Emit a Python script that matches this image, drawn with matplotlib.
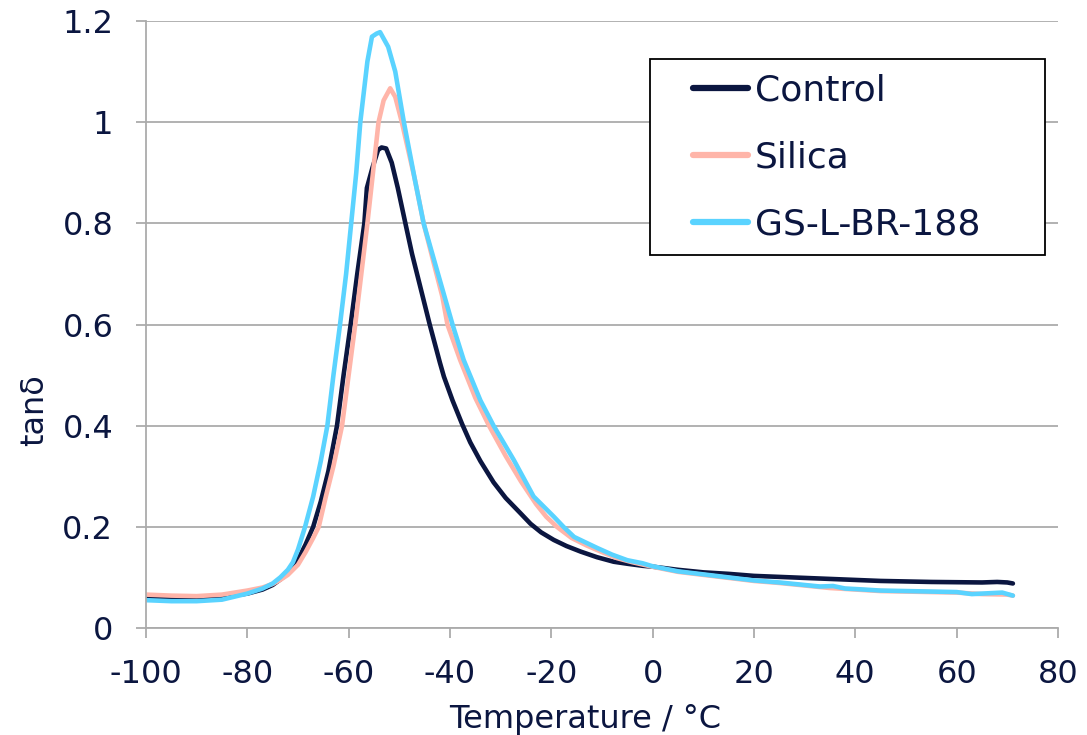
import matplotlib.pyplot as plt
from matplotlib.patches import Rectangle
from matplotlib.ticker import FormatStrFormatter

# tan delta vs temperature
ctrl_t = [-100, -95, -90, -85, -80, -77, -75, -73.5, -72, -70, -68.5, -67, -65.5, -64, -62.3, -61,
          -59.6, -58.3, -56.9, -56.4, -55.3, -54.2, -53.5, -52.6, -51.5, -50.3, -48.8, -47.5, -46,
          -44, -42, -41.2, -39.5, -37.6, -36, -34, -31.4, -29, -26.1, -24.1, -22, -19.5, -17, -14.2,
          -11, -7.7, -5, -2, 0.2, 5, 10, 15, 20, 25, 30, 35, 40, 45, 50, 55, 60, 65, 68, 70, 71.1]
ctrl_y = [0.061, 0.059, 0.058, 0.061, 0.068, 0.076, 0.085, 0.096, 0.108, 0.135, 0.165, 0.2, 0.25,
          0.31, 0.4, 0.5, 0.6, 0.7, 0.8, 0.87, 0.91, 0.945, 0.95, 0.948, 0.92, 0.87, 0.8, 0.74,
          0.68, 0.6, 0.525, 0.497, 0.45, 0.403, 0.367, 0.33, 0.288, 0.257, 0.227, 0.206, 0.189,
          0.174, 0.162, 0.151, 0.14, 0.131, 0.127, 0.123, 0.121, 0.115, 0.11, 0.107, 0.103, 0.101,
          0.099, 0.097, 0.095, 0.093, 0.092, 0.091, 0.0905, 0.09, 0.091, 0.09, 0.088]

sil_t = [-100, -95, -90, -85, -80, -77, -75, -73.5, -72, -70, -68.5, -67, -65.9, -64.5, -63, -61.3,
         -60, -58.7, -57.5, -56.3, -55.2, -54.1, -53.1, -51.8, -50.8, -49.5, -47, -45.2, -43.3,
         -41.5, -40.5, -38, -35, -32.3, -29, -26, -23, -21, -18.9, -16, -13, -10, -7, -4, 0, 5,
         10, 15, 20, 25, 30, 35, 40, 45, 50, 55, 60, 65, 70, 71.1]
sil_y = [0.066, 0.064, 0.063, 0.066, 0.074, 0.08, 0.087, 0.095, 0.105, 0.125, 0.15, 0.178, 0.2,
         0.26, 0.32, 0.4, 0.5, 0.6, 0.7, 0.8, 0.9, 1.0, 1.043, 1.067, 1.05, 1.0, 0.89, 0.8, 0.725,
         0.655, 0.6, 0.53, 0.455, 0.4, 0.34, 0.29, 0.245, 0.22, 0.2, 0.178, 0.163, 0.15, 0.138,
         0.13, 0.121, 0.111, 0.105, 0.099, 0.093, 0.089, 0.084, 0.079, 0.076, 0.073, 0.072,
         0.071, 0.07, 0.067, 0.066, 0.064]

gs_t = [-100, -95, -90, -85, -80, -77, -75, -73.5, -72, -71, -70, -68.6, -67, -65.5, -64.2, -63,
        -61.7, -60.5, -59.5, -58.5, -57.7, -56.3, -55.4, -54.5, -53.8, -52.2, -50.8, -49.1, -47,
        -45.2, -43.3, -41.5, -39.5, -37.3, -34, -31.4, -27.4, -23.5, -19.5, -17.6, -15.5, -13,
        -10.9, -8, -5, -2, 0, 5, 10, 15, 20, 25, 30, 33, 35.6, 38, 40, 45, 50, 55, 60, 63, 67,
        69, 71.1]
gs_y = [0.055, 0.053, 0.053, 0.056, 0.068, 0.078, 0.088, 0.1, 0.115, 0.13, 0.155, 0.2, 0.26,
        0.33, 0.4, 0.5, 0.6, 0.7, 0.8, 0.9, 1.0, 1.12, 1.169, 1.175, 1.178, 1.149, 1.1, 1.0,
        0.89, 0.8, 0.733, 0.67, 0.6, 0.53, 0.45, 0.4, 0.332, 0.26, 0.22, 0.2, 0.18, 0.168,
        0.158, 0.145, 0.134, 0.128, 0.122, 0.112, 0.106, 0.1, 0.094, 0.09, 0.085, 0.082, 0.083,
        0.078, 0.077, 0.074, 0.073, 0.072, 0.071, 0.067, 0.069, 0.07, 0.064]

navy = '#0b1640'
plt.rcParams['font.family'] = ['DejaVu Sans']
plt.rcParams['axes.unicode_minus'] = False

fig = plt.figure(figsize=(10.87, 7.35), dpi=100)
ax = fig.add_axes([0.1343, 0.1456, 0.839, 0.8258])

ax.plot(ctrl_t, ctrl_y, color=navy, lw=3.3, label='Control', solid_capstyle='round')
ax.plot(sil_t, sil_y, color='#ffb5a9', lw=3.3, label='Silica', solid_capstyle='round')
ax.plot(gs_t, gs_y, color='#5ad3ff', lw=3.3, label='GS-L-BR-188', solid_capstyle='round')

ax.set_xlim(-100, 80)
ax.set_ylim(0, 1.2)
ax.set_xticks(range(-100, 81, 20))
ax.set_yticks([0, 0.2, 0.4, 0.6, 0.8, 1.0, 1.2])
ax.yaxis.set_major_formatter(FormatStrFormatter('%g'))
ax.grid(axis='y', color='#ababab', lw=1.3)
ax.set_axisbelow(True)
for s in ['top', 'right']:
    ax.spines[s].set_visible(False)
for s in ['left', 'bottom']:
    ax.spines[s].set_color('#ababab')
    ax.spines[s].set_linewidth(1.3)
ax.tick_params(colors='#ababab', labelcolor=navy, labelsize=23, length=7.5, width=1.3)
ax.tick_params(axis='y', pad=16)
ax.tick_params(axis='x', pad=15)

ax.set_xlabel('Temperature / °C', fontsize=23, color=navy)
ax.xaxis.set_label_coords(0.481, -0.15)
ax.xaxis.label.set_va('center')
ax.set_ylabel('tanδ', fontsize=23, color=navy)
ax.yaxis.set_label_coords(-0.1217, 0.359)
ax.yaxis.label.set_va('center')

# legend box drawn separately so padding matches the reference
ax.add_patch(Rectangle((0.5526, 0.6145), 0.4331, 0.3229, transform=ax.transAxes,
                       facecolor='white', edgecolor='black', lw=1.3, zorder=4))
leg = ax.legend(loc='upper left', bbox_to_anchor=(0.5998, 0.9134), borderaxespad=0,
                borderpad=0, frameon=False, fontsize=26, handlelength=1.52,
                handletextpad=0.2, labelspacing=0.91, labelcolor=navy)
leg.set_zorder(5)
for h in leg.get_lines():
    h.set_linewidth(4.5)

fig.savefig('out.png', dpi=100)
